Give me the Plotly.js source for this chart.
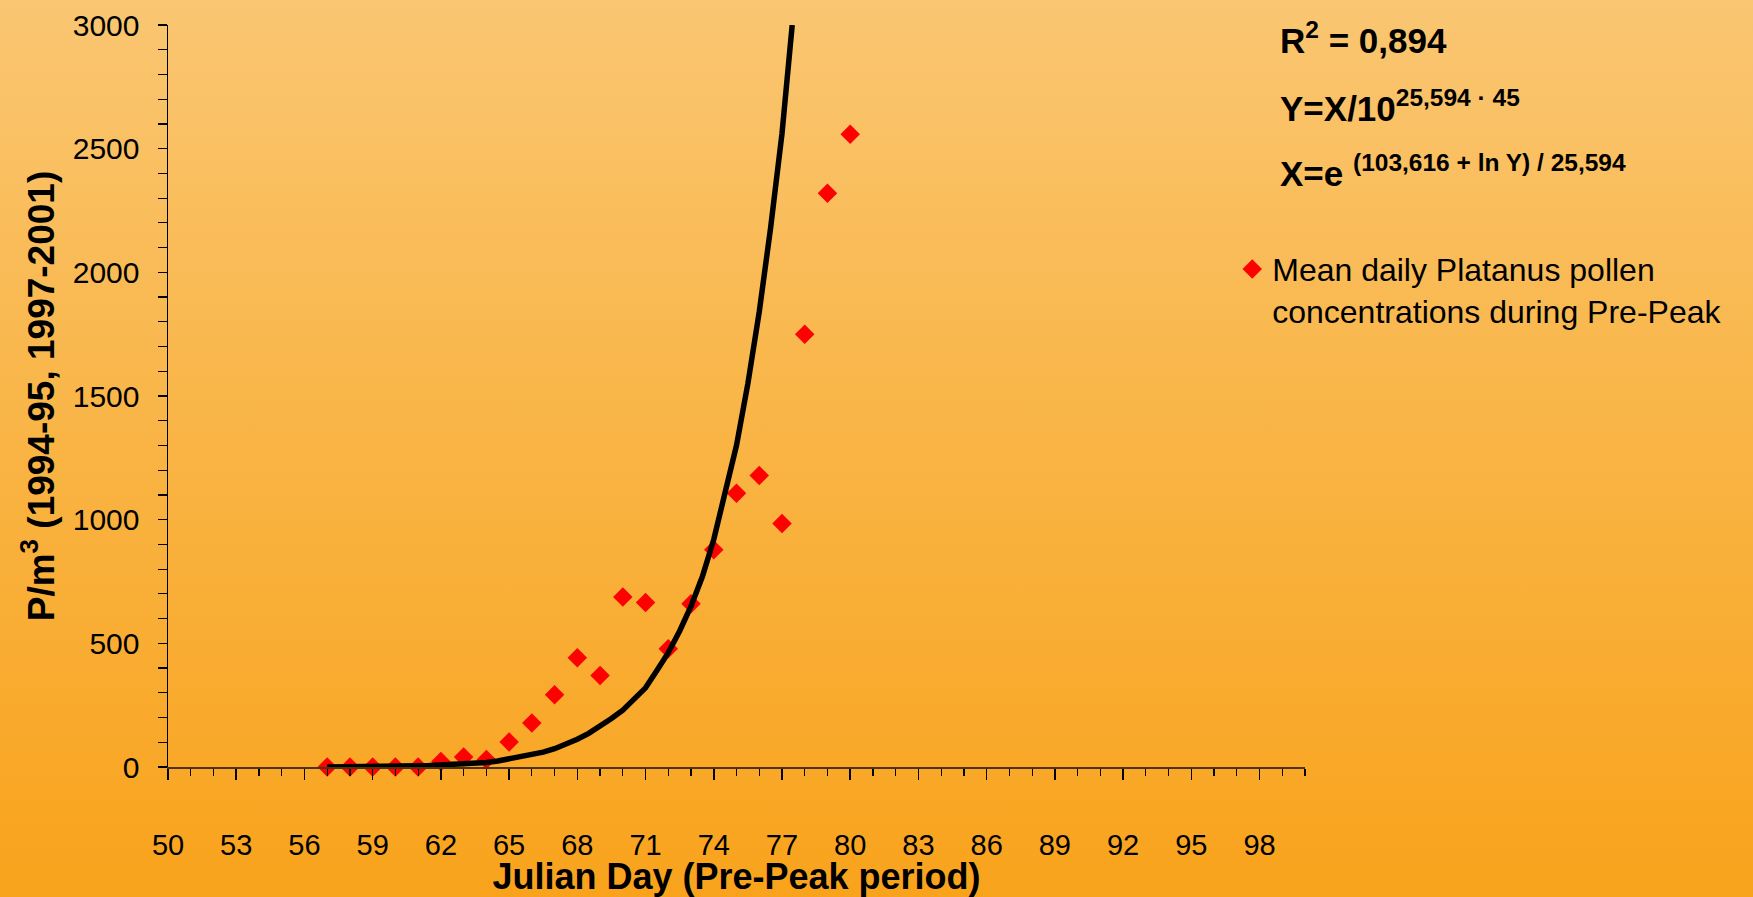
<!DOCTYPE html>
<html>
<head>
<meta charset="utf-8">
<script src="https://cdn.plot.ly/plotly-3.0.1.min.js"></script>
<style>
  html, body { margin: 0; padding: 0; }
  #chart { width: 1753px; height: 897px; background: linear-gradient(to bottom, #FAC672 0%, #F9B444 50%, #F9A31C 100%); }
</style>
</head>
<body>
<div id="chart"></div>
<script>
// Observed data: Julian day vs mean daily Platanus pollen (P/m3)
const days = [57, 58, 59, 60, 61, 62, 63, 64, 65, 66, 67, 68, 69, 70, 71, 72, 73, 74, 75, 76, 77, 78, 79, 80];
const pollen = [0, 0, 0, 0, 0, 22, 40, 30, 101, 178, 292, 442, 370, 687, 665, 478, 660, 878, 1107, 1179, 985, 1750, 2320, 2558];

// Fitted curve
const fitDays = [57, 57.5, 58, 58.5, 59, 59.5, 60, 60.5, 61, 61.5, 62, 62.5, 63, 63.5, 64, 64.5, 65, 65.5, 66, 66.5, 67, 67.5, 68, 68.5, 69, 69.5, 70, 70.5, 71, 71.5, 72, 72.5, 73, 73.5, 74, 74.5, 75, 75.5, 76, 76.5, 77, 77.45];
const fitValues = [0, 0, 1, 1, 2, 2, 3, 4, 5, 6, 8, 9, 11, 14, 18, 24, 32, 41, 50, 60, 74, 92, 112, 136, 164, 196, 230, 272, 320, 390, 462, 550, 650, 770, 920, 1110, 1300, 1550, 1840, 2180, 2560, 3000];

const seriesName = 'Mean daily Platanus pollen<br>concentrations during Pre-Peak';
const xTitle = 'Julian Day (Pre-Peak period)';
const yTitle = 'P/m<sup>3</sup> (1994-95, 1997-2001)';
const r2Text = 'R<sup>2</sup> = 0,894';
const eq1Text = 'Y=X/10<sup>25,594 · 45</sup>';
const eq2Text = 'X=e <sup>(103,616 + ln Y) / 25,594</sup>';

const FONT = 'Liberation Sans, Arial, sans-serif';

const traces = [
  {
    x: days, y: pollen, type: 'scatter', mode: 'markers', name: seriesName,
    marker: { symbol: 'diamond', size: 15, color: '#FF0000', line: { width: 0 } },
    cliponaxis: false, showlegend: true
  },
  {
    x: fitDays, y: fitValues, type: 'scatter', mode: 'lines', name: 'fit',
    line: { color: '#000000', width: 5.5 }, showlegend: false
  }
];

const layout = {
  width: 1753, height: 897,
  margin: { l: 168, r: 448, t: 25, b: 130 },
  paper_bgcolor: 'rgba(0,0,0,0)',
  plot_bgcolor: 'rgba(0,0,0,0)',
  font: { family: FONT, color: '#000000', size: 30 },
  xaxis: {
    range: [50, 100], tick0: 50, dtick: 3, showgrid: false, zeroline: false,
    showline: true, linecolor: '#4a3510', linewidth: 2,
    ticks: 'outside', ticklen: 11, tickwidth: 1.5, tickcolor: '#000000',
    minor: { dtick: 1, ticks: 'outside', ticklen: 7, tickwidth: 1.2, tickcolor: '#000000', showgrid: false },
    tickfont: { family: FONT, size: 29, color: '#000000' },
    ticklabelstandoff: 40,
    title: { text: xTitle, font: { family: FONT, size: 36, weight: 'bold', color: '#000000' }, standoff: 22 }
  },
  yaxis: {
    range: [0, 3000], tick0: 0, dtick: 500, showgrid: false, zeroline: false,
    showline: true, linecolor: '#000000', linewidth: 1.5,
    ticks: 'outside', ticklen: 9, tickwidth: 1.5, tickcolor: '#000000',
    minor: { dtick: 100, ticks: 'outside', ticklen: 9, tickwidth: 1.2, tickcolor: '#000000', showgrid: false },
    tickfont: { family: FONT, size: 30, color: '#000000' },
    ticklabelstandoff: 12,
    title: { text: yTitle, font: { family: FONT, size: 37, weight: 'bold', color: '#000000' }, standoff: 7 }
  },
  showlegend: true,
  legend: {
    x: 0.936, y: 0.708, xanchor: 'left', yanchor: 'top', valign: 'top',
    bgcolor: 'rgba(0,0,0,0)', borderwidth: 0,
    font: { family: FONT, size: 32, color: '#000000' }
  },
  annotations: [
    { xref: 'paper', yref: 'paper', x: 0.976, y: 0.983, xanchor: 'left', yanchor: 'middle', showarrow: false,
      text: r2Text, font: { family: FONT, size: 35, weight: 'bold', color: '#000000' } },
    { xref: 'paper', yref: 'paper', x: 0.976, y: 0.891, xanchor: 'left', yanchor: 'middle', showarrow: false,
      text: eq1Text, font: { family: FONT, size: 35, weight: 'bold', color: '#000000' } },
    { xref: 'paper', yref: 'paper', x: 0.976, y: 0.803, xanchor: 'left', yanchor: 'middle', showarrow: false,
      text: eq2Text, font: { family: FONT, size: 35, weight: 'bold', color: '#000000' } }
  ]
};

Plotly.newPlot('chart', traces, layout, { displayModeBar: false, staticPlot: true });
</script>
</body>
</html>
